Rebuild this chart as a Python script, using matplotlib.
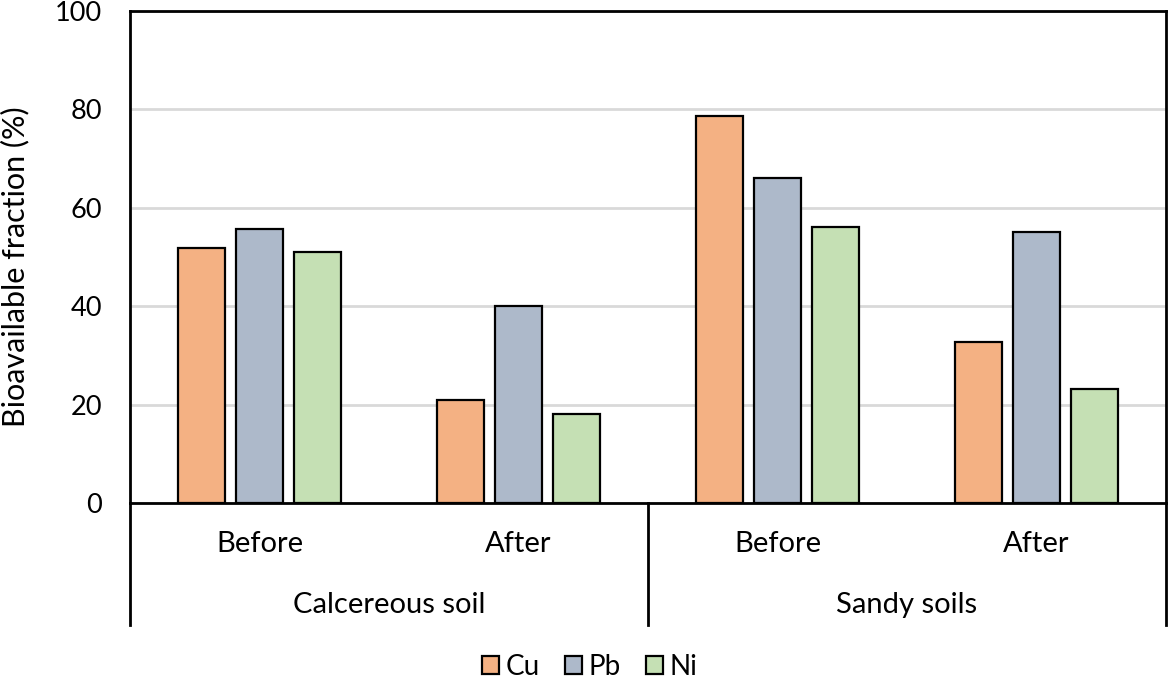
import numpy as np
import matplotlib.pyplot as plt
from matplotlib.patches import Patch

plt.rcParams['font.family'] = ['Lato', 'DejaVu Sans']

# data
groups = ['Calcereous soil', 'Sandy soils']
stages = ['Before', 'After', 'Before', 'After']
metals = ['Cu', 'Pb', 'Ni']
cu = [51.8, 20.9, 78.7, 32.7]
pb = [55.7, 40.0, 66.1, 55.1]
ni = [51.0, 18.1, 56.1, 23.2]
colors = ['#F4B183', '#ADB9CA', '#C5E0B4']

W, H = 1168, 681
fig = plt.figure(figsize=(W / 100, H / 100), dpi=100)
ax = fig.add_axes([130 / W, (H - 503) / H, (1166 - 130) / W, (503 - 11) / H])

x = np.arange(len(stages))
bw = 0.178
off = 0.224
for i, (vals, c) in enumerate(zip([cu, pb, ni], colors)):
    ax.bar(x + (i - 1) * off, vals, bw, color=c, edgecolor='black',
           linewidth=1.6, zorder=3)

ax.set_xlim(-0.5, 3.5)
ax.set_ylim(0, 100)
ax.set_yticks(range(0, 101, 20))
ax.tick_params(axis='y', length=0, labelsize=19.5, pad=20)
ax.set_xticks([])
ax.yaxis.grid(True, color='#D9D9D9', linewidth=2, zorder=0)
for s in ax.spines.values():
    s.set_linewidth(2)
ax.set_ylabel('Bioavailable fraction (%)', fontsize=22)
ax.yaxis.set_label_coords(-0.097, 0.48)

# category axis below the plot
ybot = (503 - 625) / 492
for xv in [0, 0.5, 1]:
    ax.plot([xv, xv], [0, ybot], transform=ax.transAxes, color='black',
            linewidth=2, clip_on=False)
for xi, s in zip(x, stages):
    ax.text(xi, -0.083, s, transform=ax.get_xaxis_transform(), ha='center',
            va='center', fontsize=21)
for gi, g in enumerate(groups):
    ax.text(0.25 + 0.5 * gi, -0.207, g, transform=ax.transAxes, ha='center',
            va='center', fontsize=21)

handles = [Patch(facecolor=c, edgecolor='black', linewidth=1.6) for c in colors]
fig.legend(handles, metals, loc='center', bbox_to_anchor=(590 / W, 1 - 667 / H),
           ncol=3, frameon=False, fontsize=20, handlelength=0.6,
           handleheight=0.6, handletextpad=0.25, columnspacing=0.9)

fig.savefig('out.png', dpi=100)
